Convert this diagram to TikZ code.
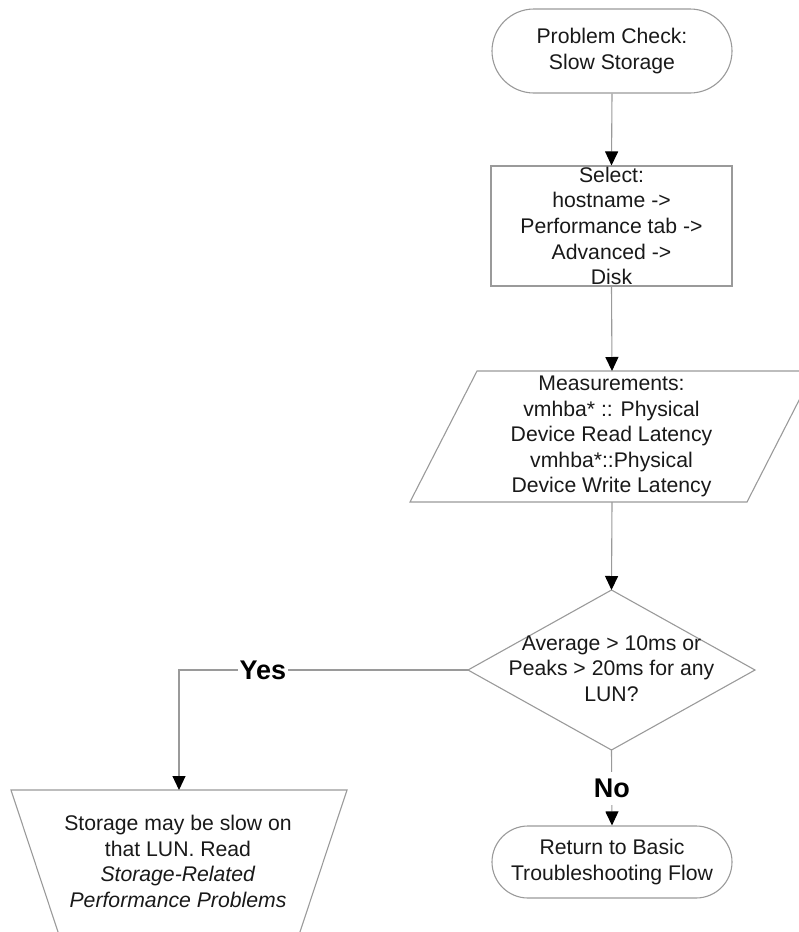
\documentclass[tikz,border=0pt]{standalone}
\usepackage{fontspec}
\setmainfont{Liberation Sans}
\usetikzlibrary{arrows.meta,shapes.misc}
\definecolor{ln}{HTML}{9A9A9A}
\begin{document}
\begin{tikzpicture}[x=1pt,y=-1pt,
  shp/.style={draw=ln, line width=1.1pt},
  txt/.style={font=\fontsize{21.2}{25.6}\selectfont, align=center, text=black!90},
  term/.style={shp, txt, rounded rectangle, minimum width=240pt, inner sep=0pt},
  conn/.style={draw=ln, line width=1.1pt, -{Triangle[length=14pt,width=13pt,color=black]}},
  lbl/.style={font=\fontsize{27}{30}\selectfont\bfseries, text=black, fill=white, inner xsep=1.5pt, inner ysep=7pt}]
\useasboundingbox (0,0) rectangle (799,932);
\begin{scope}
\clip (0,0) rectangle (799,932);
% start terminal
\node[term, minimum height=84pt] (start) at (612,51) {Problem Check:\\Slow Storage};
% select box
\node[shp, txt, rectangle, minimum width=241pt, minimum height=120pt, inner sep=0pt] (select) at (611.5,226)
  {Select:\\hostname ->\\Performance tab ->\\Advanced ->\\Disk};
% parallelogram
\draw[shp] (477,371) -- (814,371) -- (747,502) -- (410,502) -- cycle;
\coordinate (pT) at (612,371);
\coordinate (pB) at (612,502);
\node[txt, inner sep=0pt] (meas) at (611.5,436.5)
  {Measurements:\\vmhba* :: Physical\\Device Read Latency\\vmhba*::Physical\\Device Write Latency};
% diamond
\draw[shp] (611.5,590) -- (755,670) -- (611.5,750) -- (468,670) -- cycle;
\coordinate (dT) at (611.5,590);
\coordinate (dB) at (611.5,750);
\coordinate (dL) at (468,670);
\node[txt, inner sep=0pt] (dec) at (611.5,668.5)
  {Average > 10ms or\\Peaks > 20ms for any\\LUN?};
% trapezoid
\draw[shp] (11,790) -- (347,790) -- (290.7,960) -- (67.3,960) -- cycle;
\coordinate (tT) at (179,790);
\node[txt, inner sep=0pt] (slow) at (178,861.5)
  {Storage may be slow on\\that LUN. Read\\\textit{Storage-Related}\\\textit{Performance Problems}};
% end terminal
\node[term, minimum height=72pt] (ret) at (612,862) {Return to Basic\\Troubleshooting Flow};
% connectors
\draw[conn] (start.south) -- (select.north);
\draw[conn] (select.south) -- (pT);
\draw[conn] (pB) -- (dT);
\draw[conn] (dL) -| node[lbl, pos=0.355] (yes) {Yes} (tT);
\draw[conn] (dB) -- node[lbl, pos=0.507] (no) {No} (ret.north);
\end{scope}
\end{tikzpicture}
\end{document}
